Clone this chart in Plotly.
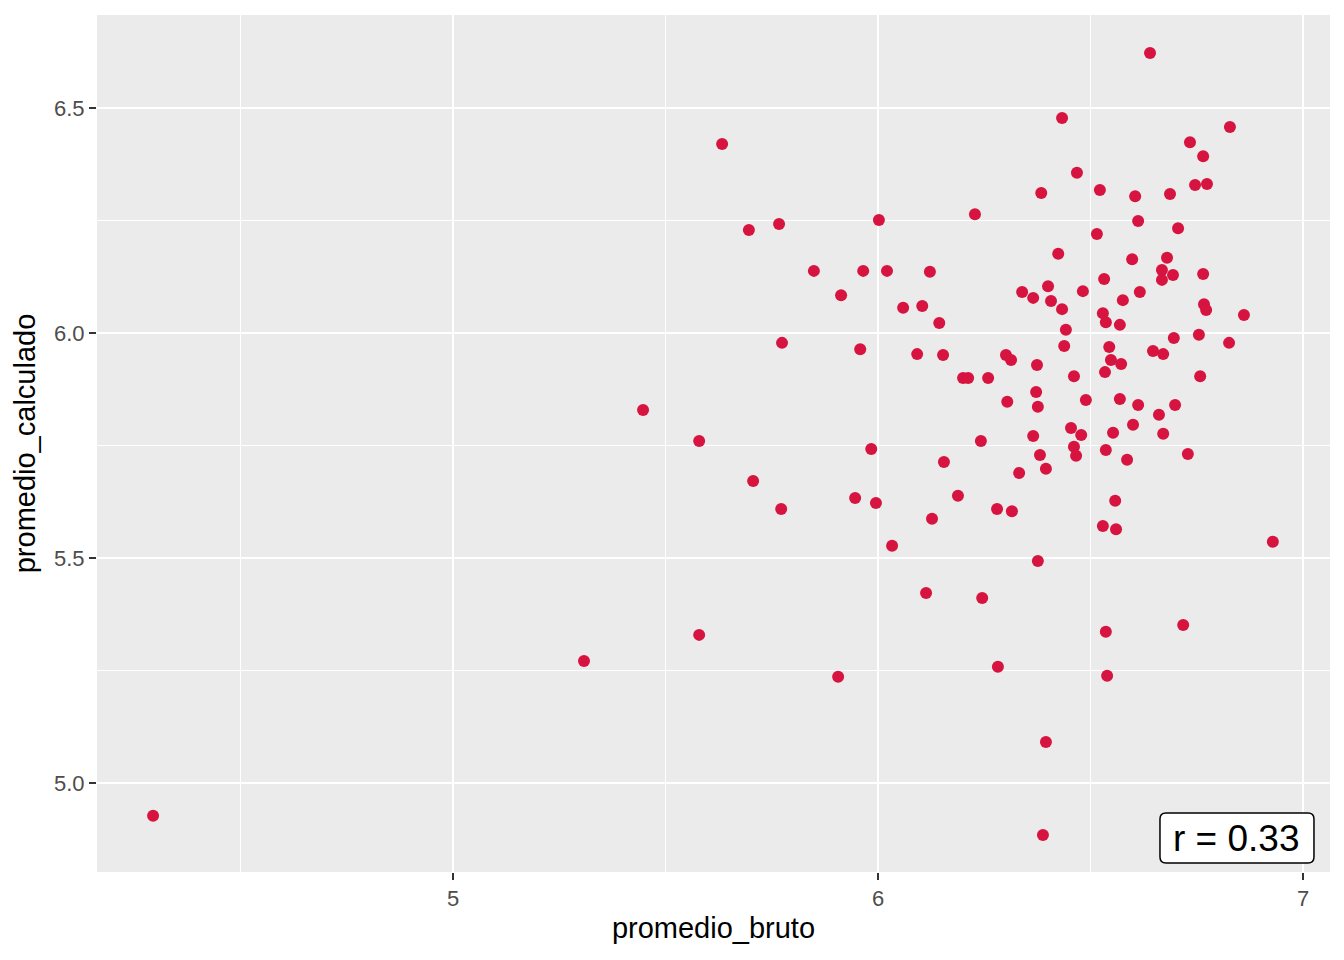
import plotly.graph_objects as go

promedio_bruto = [
    4.294, 5.308, 5.447, 5.579, 5.579, 5.633, 5.696, 5.706, 5.767, 5.772,
    5.774, 5.849, 5.906, 5.913, 5.946, 5.958, 5.965, 5.984, 5.995, 6.002,
    6.021, 6.033, 6.059, 6.092, 6.104, 6.113, 6.122, 6.127, 6.144, 6.153,
    6.155, 6.188, 6.200, 6.212, 6.228, 6.242, 6.245, 6.259, 6.280, 6.282,
    6.301, 6.304, 6.313, 6.315, 6.332, 6.339, 6.365, 6.365, 6.372, 6.374,
    6.376, 6.376, 6.384, 6.381, 6.388, 6.395, 6.395, 6.400, 6.407, 6.424,
    6.433, 6.433, 6.438, 6.442, 6.454, 6.461, 6.466, 6.461, 6.468, 6.478,
    6.482, 6.489, 6.515, 6.522, 6.529, 6.529, 6.532, 6.534, 6.536, 6.536,
    6.536, 6.539, 6.544, 6.548, 6.553, 6.558, 6.560, 6.569, 6.569, 6.572,
    6.576, 6.586, 6.598, 6.600, 6.605, 6.612, 6.612, 6.616, 6.640, 6.647,
    6.661, 6.668, 6.668, 6.671, 6.671, 6.680, 6.687, 6.694, 6.696, 6.699,
    6.706, 6.718, 6.729, 6.734, 6.746, 6.755, 6.758, 6.765, 6.765, 6.767,
    6.772, 6.774, 6.826, 6.828, 6.861, 6.929,
]

promedio_calculado = [
    4.927, 5.271, 5.829, 5.760, 5.329, 6.420, 6.229, 5.671, 6.242, 5.609,
    5.978, 6.138, 5.236, 6.084, 5.633, 5.964, 6.138, 5.742, 5.622, 6.251,
    6.138, 5.527, 6.056, 5.953, 6.060, 5.422, 6.136, 5.587, 6.022, 5.951,
    5.713, 5.638, 5.900, 5.900, 6.264, 5.760, 5.411, 5.900, 5.609, 5.258,
    5.951, 5.847, 5.940, 5.604, 5.689, 6.091, 6.078, 5.771, 5.869, 5.929,
    5.836, 5.493, 6.311, 5.729, 4.884, 5.091, 5.698, 6.104, 6.071, 6.176,
    6.478, 6.053, 5.971, 6.007, 5.789, 5.747, 5.727, 5.904, 6.356, 5.773,
    6.093, 5.851, 6.220, 6.318, 6.044, 5.571, 6.120, 5.913, 6.024, 5.740,
    5.336, 5.238, 5.969, 5.940, 5.778, 5.627, 5.564, 5.853, 6.018, 5.931,
    6.073, 5.718, 6.164, 5.796, 6.304, 6.249, 5.840, 6.091, 6.622, 5.960,
    5.818, 6.140, 6.118, 5.953, 5.776, 6.167, 6.309, 6.129, 5.989, 5.840,
    6.233, 5.351, 5.731, 6.424, 6.329, 5.996, 5.904, 6.393, 6.131, 6.064,
    6.051, 6.331, 5.978, 6.458, 6.040, 5.536,
]

r_label = "r = 0.33"
x_ticks = [5, 6, 7]
y_ticks = [5.0, 5.5, 6.0, 6.5]
y_tick_text = ["5.0", "5.5", "6.0", "6.5"]

FONT = "Liberation Sans, Arial, sans-serif"

fig = go.Figure()
fig.add_trace(go.Scatter(
    x=promedio_bruto, y=promedio_calculado, mode="markers",
    marker=dict(color="#D6143F", size=12, line=dict(width=0)),
    showlegend=False, hoverinfo="x+y",
))

axis_common = dict(
    showgrid=True, gridcolor="white", gridwidth=2,
    zeroline=False, showline=False,
    ticks="outside", ticklen=7, tickwidth=2, tickcolor="#333333",
    tickfont=dict(family=FONT, size=22, color="#4D4D4D"),
)

fig.update_layout(
    width=1344, height=960,
    paper_bgcolor="white", plot_bgcolor="#EBEBEB",
    margin=dict(l=97, r=14, t=15, b=88),
    font=dict(family=FONT),
    xaxis=dict(
        **axis_common,
        range=[4.162, 7.0635],
        tickvals=x_ticks, ticktext=[str(v) for v in x_ticks],
        minor=dict(dtick=0.5, tick0=4.5, showgrid=True, gridcolor="white",
                   gridwidth=1, ticks=""),
        title=dict(text="promedio_bruto", font=dict(family=FONT, size=29, color="black"),
                   standoff=7),
    ),
    yaxis=dict(
        **axis_common,
        range=[4.802, 6.7067],
        tickvals=y_ticks, ticktext=y_tick_text,
        minor=dict(dtick=0.25, tick0=4.75, showgrid=True, gridcolor="white",
                   gridwidth=1, ticks=""),
        title=dict(text="promedio_calculado", font=dict(family=FONT, size=29, color="black"),
                   standoff=9),
    ),
)

# rounded label box (bottom-right, like ggplot label)
x0, x1, y0, y1 = 0.8621, 0.9870, 0.0105, 0.0688
rx, ry = 6 / 1233, 6 / 857
path = (
    f"M {x0+rx},{y0} L {x1-rx},{y0} Q {x1},{y0} {x1},{y0+ry} "
    f"L {x1},{y1-ry} Q {x1},{y1} {x1-rx},{y1} "
    f"L {x0+rx},{y1} Q {x0},{y1} {x0},{y1-ry} "
    f"L {x0},{y0+ry} Q {x0},{y0} {x0+rx},{y0} Z"
)
fig.add_shape(type="path", path=path, xref="x domain", yref="y domain",
              fillcolor="white", line=dict(color="black", width=1.5), layer="above")
fig.add_annotation(
    x=(x0 + x1) / 2, y=(y0 + y1) / 2, xref="x domain", yref="y domain",
    text=r_label, showarrow=False, xanchor="center", yanchor="middle",
    font=dict(family=FONT, size=37, color="black"),
)

fig.write_html("out.html", config={"displayModeBar": False},
               post_script="document.body.style.margin='0';document.body.style.overflow='hidden';")
